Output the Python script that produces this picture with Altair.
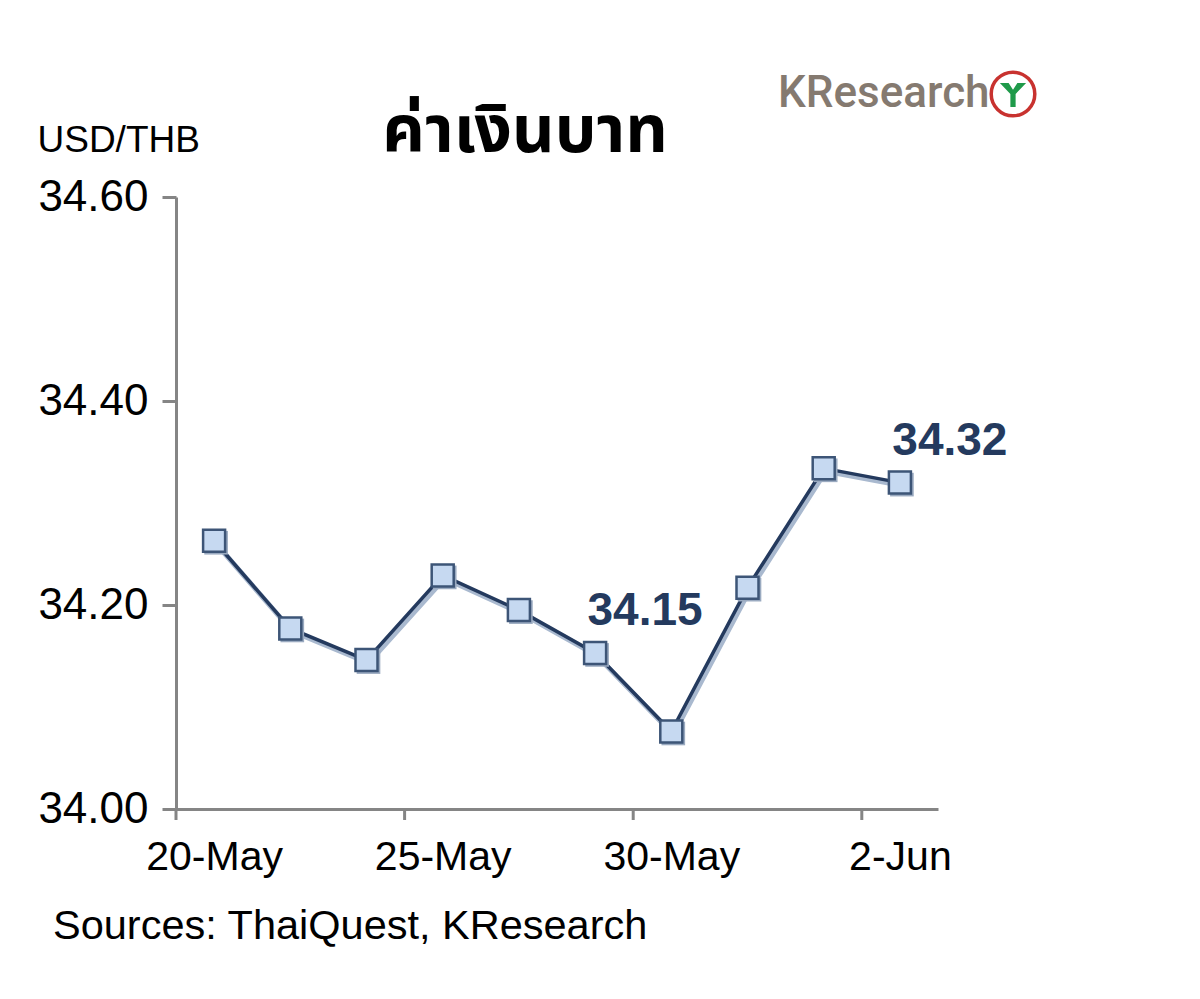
import altair as alt
import pandas as pd

# ---- data ----
dates = ["20-May", "23-May", "24-May", "25-May", "26-May", "27-May",
         "30-May", "31-May", "1-Jun", "2-Jun"]
rates = [34.263, 34.177, 34.146, 34.229, 34.195, 34.153, 34.076, 34.217, 34.334, 34.320]
label_idx = [0, 3, 6, 9]
tick_bounds = [-0.5, 2.5, 5.5, 8.5]
annot_idx = [5, 9]
annot_text = ["34.15", "34.32"]
y_ticks = [34.0, 34.2, 34.4, 34.6]

W, H = 762, 612
NAVY = "#243a5e"
AXIS = "#858585"
FONT = "Liberation Sans"

df = pd.DataFrame({"i": list(range(len(dates))), "date": dates, "rate": rates})
annot = pd.DataFrame({"i": annot_idx, "rate": [rates[k] for k in annot_idx], "txt": annot_text})
ticks_df = pd.DataFrame({"b": tick_bounds})
one = pd.DataFrame({"k": [0]})

label_arr = "[" + ",".join("'%s'" % d for d in dates) + "]"

x_scale = alt.Scale(domain=[-0.5, len(dates) - 0.5], nice=False, zero=False)
y_scale = alt.Scale(domain=[34.0, 34.6], nice=False, zero=False)

x_axis = alt.Axis(values=label_idx, labelExpr=label_arr + "[datum.value]", ticks=False,
                  grid=False, domainColor=AXIS, domainWidth=3, labelFontSize=41,
                  labelFont=FONT, labelColor="#000000", labelPadding=28, title=None,
                  labelFlush=False)
y_axis = alt.Axis(values=y_ticks, format=".2f", grid=False, domainColor=AXIS, domainWidth=3,
                  tickColor=AXIS, tickWidth=3, tickSize=14, labelPadding=14,
                  labelFontSize=44, labelFont=FONT, labelColor="#000000",
                  title="USD/THB", titleAngle=0, titleX=-139, titleY=-57, titleAlign="left",
                  titleBaseline="middle", titleFontSize=37, titleFont=FONT,
                  titleFontWeight="normal", titleColor="#000000")

base = alt.Chart(df)

shadow = base.mark_line(color="#a9b9cf", strokeWidth=5, xOffset=2, yOffset=3).encode(
    x=alt.X("i:Q", scale=x_scale, axis=x_axis),
    y=alt.Y("rate:Q", scale=y_scale, axis=y_axis),
)
line = base.mark_line(color=NAVY, strokeWidth=3.5).encode(
    x=alt.X("i:Q", scale=x_scale),
    y=alt.Y("rate:Q", scale=y_scale),
)
sq_shadow = base.mark_point(shape="square", filled=True, size=560, color="#9aaac0",
                            xOffset=2, yOffset=2, opacity=1).encode(
    x=alt.X("i:Q", scale=x_scale),
    y=alt.Y("rate:Q", scale=y_scale),
)
squares = base.mark_point(shape="square", filled=True, size=484, fill="#c6d9f1",
                          stroke="#3d5577", strokeWidth=2.5, opacity=1).encode(
    x=alt.X("i:Q", scale=x_scale),
    y=alt.Y("rate:Q", scale=y_scale),
)
labels = alt.Chart(annot).mark_text(fontSize=46, fontWeight="bold", font=FONT, color=NAVY,
                                    dx=50, dy=-42, align="center", baseline="middle").encode(
    x=alt.X("i:Q", scale=x_scale),
    y=alt.Y("rate:Q", scale=y_scale),
    text="txt:N",
)
xticks = alt.Chart(ticks_df).mark_rule(color=AXIS, strokeWidth=3).encode(
    x=alt.X("b:Q", scale=x_scale),
    y=alt.value(H),
    y2=alt.value(H + 11),
)
source = alt.Chart(one).mark_text(text="Sources: ThaiQuest, KResearch", fontSize=41.5, font=FONT,
                                  color="#000000", align="left", baseline="middle").encode(
    x=alt.value(-123), y=alt.value(730)
)
logo_text = alt.Chart(one).mark_text(text="KResearch", fontSize=44, font="Roboto",
                                     fontWeight=500, color="#857a70", align="left",
                                     baseline="middle").encode(
    x=alt.value(602), y=alt.value(-103)
)
logo_circle = alt.Chart(one).mark_point(shape="circle", size=1900, filled=False,
                                        stroke="#c8322f", strokeWidth=3.5, opacity=1).encode(
    x=alt.value(837), y=alt.value(-103)
)
leaf = ("M-0.9,-0.75 L-0.18,0.0 L-0.18,0.9 L0.18,0.9 L0.18,0.0 L0.9,-0.75 "
        "L0.3,-0.75 L0,-0.3 L-0.3,-0.75 Z")
logo_leaf = alt.Chart(one).mark_point(shape=leaf, size=850, filled=True, color="#1f9a4a",
                                      opacity=1).encode(
    x=alt.value(837), y=alt.value(-103)
)

chart = alt.layer(shadow, line, sq_shadow, squares, labels, xticks, source,
                  logo_text, logo_circle, logo_leaf).properties(
    width=W, height=H,
    background="#ffffff",
    title=alt.TitleParams("ค่าเงินบาท", fontSize=66, fontWeight="bold", color="#000000",
                          font="Noto Sans Thai, Tahoma, Loma, Garuda, sans-serif",
                          anchor="middle", dx=-32, dy=131, offset=30),
    autosize=alt.AutoSizeParams(type="none"),
    padding={"left": 168, "top": 189, "right": 230, "bottom": 150},
).configure_view(strokeWidth=0, stroke="transparent")

chart.save("out.html", embed_options={"renderer": "svg", "actions": False})
